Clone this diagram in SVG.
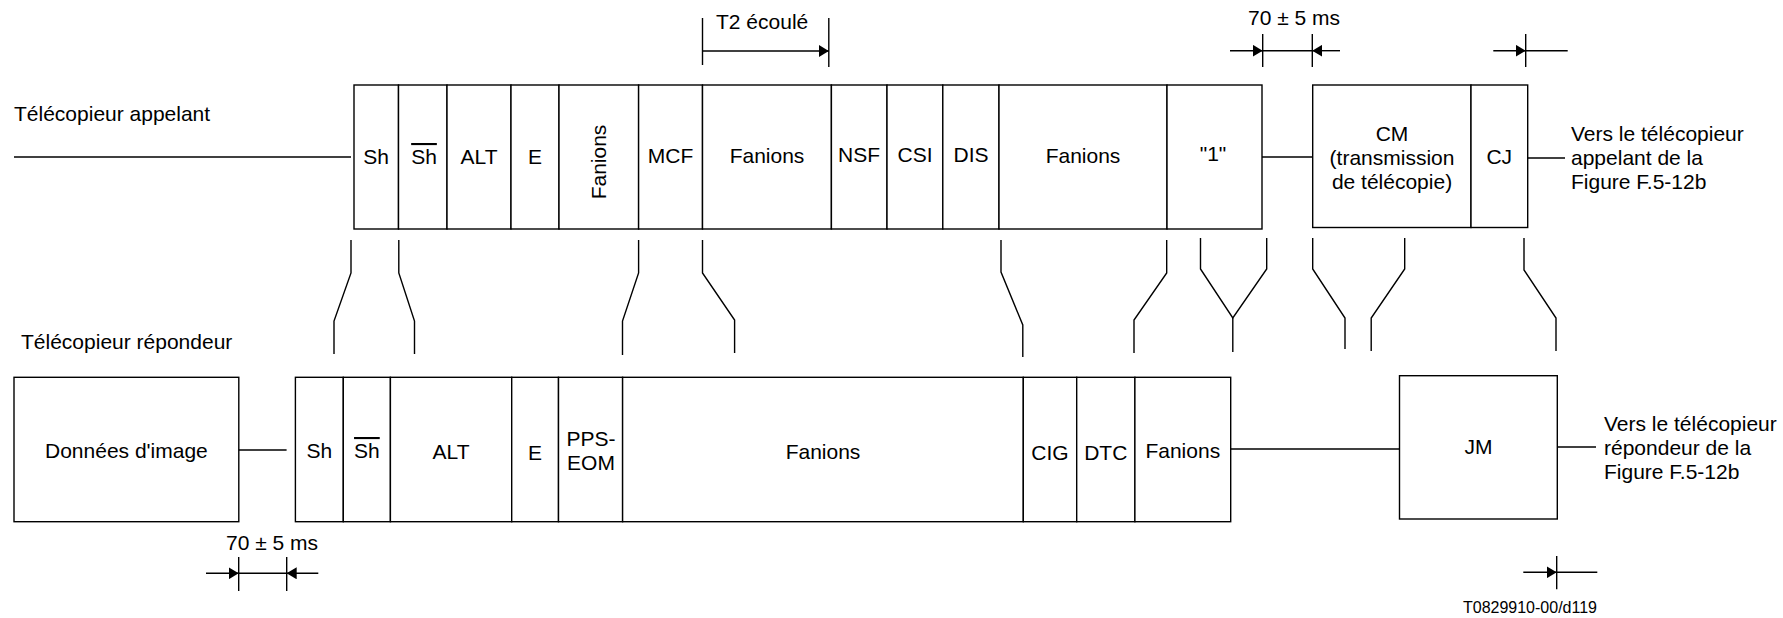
<svg xmlns="http://www.w3.org/2000/svg" width="1783" height="618" viewBox="0 0 1783 618">
<style>
.c{fill:#fff;stroke:#000;stroke-width:1.4}
.l{fill:none;stroke:#000;stroke-width:1.4}
text{font-family:"Liberation Sans",Arial,sans-serif;font-size:21px;fill:#000}
.m{text-anchor:middle}
.ov{text-decoration:overline}
.sm{font-size:16px}
</style>
<defs>
<marker id="ah" viewBox="0 0 10 12" markerWidth="10" markerHeight="12" refX="10" refY="6" orient="auto" markerUnits="userSpaceOnUse">
<path d="M0,0 L10,6 L0,12 z" fill="#000"/>
</marker>
</defs>

<text x="14" y="121">Télécopieur appelant</text>
<text x="21" y="349">Télécopieur répondeur</text>

<!-- calling fax row -->
<g id="top-sh"><rect class="c" x="354" y="85" width="44.5" height="144"/><text class="m" x="376" y="164">Sh</text></g>
<g id="top-shbar"><rect class="c" x="398.5" y="85" width="48.5" height="144"/><text class="m ov" x="424" y="164">Sh</text></g>
<g id="top-alt"><rect class="c" x="447" y="85" width="64" height="144"/><text class="m" x="479" y="164">ALT</text></g>
<g id="top-e"><rect class="c" x="511" y="85" width="48" height="144"/><text class="m" x="535" y="164">E</text></g>
<g id="top-fanions1"><rect class="c" x="559" y="85" width="79.6" height="144"/><text class="m" x="599" y="162" transform="rotate(-90 599 162)" dy="7">Fanions</text></g>
<g id="top-mcf"><rect class="c" x="638.6" y="85" width="63.9" height="144"/><text class="m" x="670.5" y="163">MCF</text></g>
<g id="top-fanions2"><rect class="c" x="702.5" y="85" width="128.9" height="144"/><text class="m" x="767" y="163">Fanions</text></g>
<g id="top-nsf"><rect class="c" x="831.4" y="85" width="55.6" height="144"/><text class="m" x="859" y="162">NSF</text></g>
<g id="top-csi"><rect class="c" x="887" y="85" width="55.8" height="144"/><text class="m" x="915" y="162">CSI</text></g>
<g id="top-dis"><rect class="c" x="942.8" y="85" width="56.2" height="144"/><text class="m" x="971" y="162">DIS</text></g>
<g id="top-fanions3"><rect class="c" x="999" y="85" width="168" height="144"/><text class="m" x="1083" y="163">Fanions</text></g>
<g id="top-one"><rect class="c" x="1167" y="85" width="95" height="144"/><text class="m" x="1213" y="161">"1"</text></g>
<g id="top-cm"><rect class="c" x="1312.7" y="85" width="158.3" height="142.5"/><text class="m" x="1392" y="141">CM</text><text class="m" x="1392" y="165">(transmission</text><text class="m" x="1392" y="189">de télécopie)</text></g>
<g id="top-cj"><rect class="c" x="1471" y="85" width="56.7" height="142.5"/><text class="m" x="1499.3" y="164">CJ</text></g>
<g id="top-label"><text x="1571" y="141">Vers le télécopieur</text><text x="1571" y="165">appelant de la</text><text x="1571" y="189">Figure F.5-12b</text></g>

<!-- answering fax row -->
<g id="bot-data"><rect class="c" x="14" y="377.3" width="224.8" height="144.4"/><text class="m" x="126.4" y="458">Données d'image</text></g>
<g id="bot-sh"><rect class="c" x="295.4" y="377.3" width="47.9" height="144.4"/><text class="m" x="319.4" y="458">Sh</text></g>
<g id="bot-shbar"><rect class="c" x="343.3" y="377.3" width="47.1" height="144.4"/><text class="m ov" x="366.9" y="458">Sh</text></g>
<g id="bot-alt"><rect class="c" x="390.4" y="377.3" width="121.3" height="144.4"/><text class="m" x="451" y="459">ALT</text></g>
<g id="bot-e"><rect class="c" x="511.7" y="377.3" width="46.8" height="144.4"/><text class="m" x="535" y="460">E</text></g>
<g id="bot-ppseom"><rect class="c" x="558.5" y="377.3" width="64.1" height="144.4"/><text class="m" x="591" y="446">PPS-</text><text class="m" x="591" y="470">EOM</text></g>
<g id="bot-fanions1"><rect class="c" x="622.6" y="377.3" width="400.7" height="144.4"/><text class="m" x="823" y="459">Fanions</text></g>
<g id="bot-cig"><rect class="c" x="1023.3" y="377.3" width="53.4" height="144.4"/><text class="m" x="1050" y="460">CIG</text></g>
<g id="bot-dtc"><rect class="c" x="1076.7" y="377.3" width="58.2" height="144.4"/><text class="m" x="1105.8" y="460">DTC</text></g>
<g id="bot-fanions2"><rect class="c" x="1134.9" y="377.3" width="95.8" height="144.4"/><text class="m" x="1182.8" y="458">Fanions</text></g>
<g id="bot-jm"><rect class="c" x="1399.5" y="375.7" width="157.8" height="143.3"/><text class="m" x="1478.4" y="454">JM</text></g>
<g id="bot-label"><text x="1604" y="431">Vers le télécopieur</text><text x="1604" y="455">répondeur de la</text><text x="1604" y="479">Figure F.5-12b</text></g>

<!-- connectors -->
<g id="connectors">
<line class="l" x1="14" y1="157" x2="351" y2="157"/>
<line class="l" x1="1262" y1="157" x2="1312.7" y2="157"/>
<line class="l" x1="1527.7" y1="158" x2="1565" y2="158"/>
<line class="l" x1="238.8" y1="450" x2="286.6" y2="450"/>
<line class="l" x1="1230.7" y1="449" x2="1399.5" y2="449"/>
<line class="l" x1="1557.3" y1="447" x2="1596" y2="447"/>

<polyline class="l" points="351,240 351,273 334,321 334,354"/>
<polyline class="l" points="398.8,240 398.8,273 414.5,321 414.5,354"/>
<polyline class="l" points="638.6,240 638.6,273 622.5,321 622.5,355"/>
<polyline class="l" points="702.5,240 702.5,273 734.6,320 734.6,353"/>
<polyline class="l" points="1001,240 1001,272 1022.8,325 1022.8,357"/>
<polyline class="l" points="1166.7,240 1166.7,273 1134,320 1134,353"/>
<polyline class="l" points="1200.5,238 1200.5,269 1232.8,318 1266.7,269 1266.7,238"/>
<line class="l" x1="1232.8" y1="318" x2="1232.8" y2="352"/>
<polyline class="l" points="1312.7,238 1312.7,269 1345,318 1345,349"/>
<polyline class="l" points="1404.7,238 1404.7,269 1371.2,318 1371.2,351"/>
<polyline class="l" points="1524,238 1524,270 1556,318 1556,351"/>

<!-- T2 ecoule -->
<text x="716" y="29">T2 écoulé</text>
<line class="l" x1="702.5" y1="18" x2="702.5" y2="65"/>
<line class="l" x1="828.8" y1="18" x2="828.8" y2="67"/>
<line class="l" x1="702.5" y1="51" x2="828.8" y2="51" marker-end="url(#ah)"/>

<!-- top 70 +- 5 ms -->
<text x="1248" y="25">70 ± 5 ms</text>
<line class="l" x1="1262.7" y1="34" x2="1262.7" y2="67"/>
<line class="l" x1="1312.3" y1="34" x2="1312.3" y2="67"/>
<line class="l" x1="1230" y1="50.7" x2="1262.7" y2="50.7" marker-end="url(#ah)"/>
<line class="l" x1="1262.7" y1="50.7" x2="1312.3" y2="50.7"/>
<line class="l" x1="1340" y1="50.7" x2="1312.3" y2="50.7" marker-end="url(#ah)"/>
<line class="l" x1="1525.7" y1="34" x2="1525.7" y2="67"/>
<line class="l" x1="1493.3" y1="50.7" x2="1525.7" y2="50.7" marker-end="url(#ah)"/>
<line class="l" x1="1525.7" y1="50.7" x2="1567.7" y2="50.7"/>

<!-- bottom 70 +- 5 ms -->
<text x="226" y="550">70 ± 5 ms</text>
<line class="l" x1="238.7" y1="557" x2="238.7" y2="591"/>
<line class="l" x1="286.7" y1="557" x2="286.7" y2="591"/>
<line class="l" x1="206" y1="573.3" x2="238.7" y2="573.3" marker-end="url(#ah)"/>
<line class="l" x1="238.7" y1="573.3" x2="286.7" y2="573.3"/>
<line class="l" x1="318.3" y1="573.3" x2="286.7" y2="573.3" marker-end="url(#ah)"/>

<line class="l" x1="1556.7" y1="556" x2="1556.7" y2="589.3"/>
<line class="l" x1="1523.3" y1="572.3" x2="1556.7" y2="572.3" marker-end="url(#ah)"/>
<line class="l" x1="1556.7" y1="572.3" x2="1597.3" y2="572.3"/>
</g>

<text class="sm" x="1597" y="613" text-anchor="end">T0829910-00/d119</text>
</svg>
